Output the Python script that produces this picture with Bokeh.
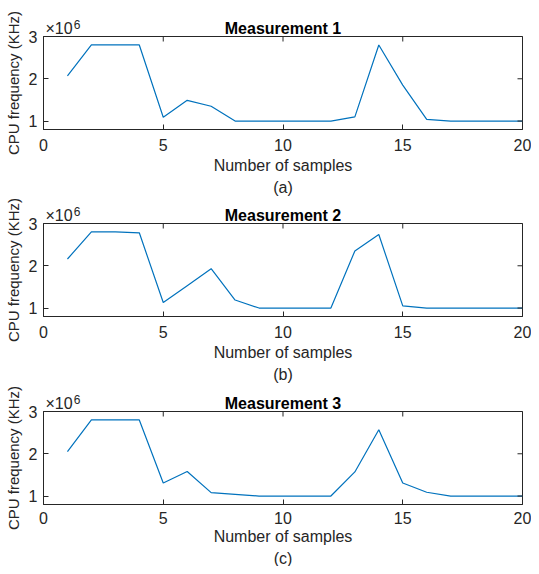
import math
from bokeh.plotting import figure
from bokeh.layouts import column
from bokeh.models import (Range1d, FixedTicker, Title, LinearAxis,
                          CustomJSTickFormatter)
from bokeh.embed import file_html
from bokeh.resources import INLINE

# ---- data (CPU frequency in units of 10^6 KHz) ----
samples = list(range(1, 21))
measurement_1 = [2.07, 2.80, 2.80, 2.80, 1.09, 1.49, 1.35, 1.00, 1.00, 1.00,
                 1.00, 1.00, 1.10, 2.80, 1.85, 1.04, 1.00, 1.00, 1.00, 1.00]
measurement_2 = [2.16, 2.80, 2.80, 2.78, 1.13, 1.53, 1.93, 1.19, 1.00, 1.00,
                 1.00, 1.00, 2.35, 2.74, 1.05, 1.00, 1.00, 1.00, 1.00, 1.00]
measurement_3 = [2.05, 2.80, 2.80, 2.80, 1.31, 1.58, 1.08, 1.04, 1.00, 1.00,
                 1.00, 1.00, 1.57, 2.57, 1.31, 1.09, 1.00, 1.00, 1.00, 1.00]

titles = ["Measurement 1", "Measurement 2", "Measurement 3"]
captions = ["(a)", "(b)", "(c)"]
x_ticks = [0, 5, 10, 15, 20]
y_ticks = [1, 2, 3]
X_RANGE = (0, 20)
Y_RANGE = (0.8, 3.0)
x_label = "Number of samples"
y_label = "CPU frequency (KHz)"
exp_base = "\u00d710"
exp_power = "6"

FONT = "Liberation Sans"
AX = "#262626"
LINE = "#0072BD"
FIG_W = 531
FRAME_H = 93
BORDER_L = 43
BORDER_R = 9


def data_x(px):
    frame_w = FIG_W - BORDER_L - BORDER_R
    return X_RANGE[0] + px * (X_RANGE[1] - X_RANGE[0]) / frame_w


def label_axis(text, px_center, size, standoff):
    return LinearAxis(ticker=FixedTicker(ticks=[data_x(px_center)]),
                      formatter=CustomJSTickFormatter(code="return %r;" % text),
                      major_tick_in=0, major_tick_out=0,
                      minor_tick_in=0, minor_tick_out=0,
                      axis_line_color=None, major_tick_line_color=None,
                      minor_tick_line_color=None,
                      major_label_text_font=FONT,
                      major_label_text_font_size=size,
                      major_label_text_color=AX,
                      major_label_standoff=standoff)


def make(values, title, caption, height, top, tick_standoff, label_standoff):
    p = figure(width=FIG_W, height=height,
               x_range=Range1d(*X_RANGE), y_range=Range1d(*Y_RANGE),
               output_backend="svg", toolbar_location=None,
               min_border_top=top, min_border_left=BORDER_L,
               min_border_right=BORDER_R,
               min_border_bottom=height - top - FRAME_H)
    p.line(samples, values, line_color=LINE, line_width=1.2)

    p.grid.visible = False
    p.outline_line_color = AX
    p.outline_line_width = 1
    p.background_fill_color = "white"
    p.border_fill_color = "white"
    p.title.visible = False

    for ax in (p.xaxis[0], p.yaxis[0]):
        ax.major_tick_in = 5
        ax.major_tick_out = 0
        ax.minor_tick_in = 0
        ax.minor_tick_out = 0
        ax.axis_line_color = AX
        ax.major_tick_line_color = AX
        ax.major_label_text_font = FONT
        ax.major_label_text_font_size = "16px"
        ax.major_label_text_color = AX
        ax.axis_label_text_font = FONT
        ax.axis_label_text_font_size = "16px"
        ax.axis_label_text_font_style = "normal"
        ax.axis_label_text_color = AX

    p.xaxis.ticker = FixedTicker(ticks=x_ticks)
    p.yaxis.ticker = FixedTicker(ticks=y_ticks)
    p.xaxis.axis_label = x_label
    p.yaxis.axis_label = y_label
    p.yaxis.axis_label_text_font_size = "15px"
    p.xaxis.major_label_standoff = tick_standoff
    p.xaxis.axis_label_standoff = label_standoff
    p.yaxis.major_label_standoff = 6
    p.yaxis.axis_label_standoff = 4

    # mirrored ticks on top and right (box on)
    p.scatter(x_ticks, [Y_RANGE[1]] * len(x_ticks), marker="dash", size=10,
              angle=math.pi / 2, line_color=AX, line_width=1)
    p.scatter([X_RANGE[1]] * len(y_ticks), y_ticks, marker="dash", size=10,
              line_color=AX, line_width=1)

    cap = Title(text=caption, align="center", text_font=FONT,
                text_font_size="16px", text_font_style="normal",
                text_color=AX, standoff=0)
    p.add_layout(cap, "below")

    # top row: scale factor "x10^6" at the left and the bold title centred
    split_power = True
    try:
        sup = label_axis(exp_power, 33.5, "12px", 0)
        sup.major_label_standoff = -12
    except Exception:
        split_power = False
    base_text = exp_base if split_power else exp_base + "\u2076"
    top_ax = label_axis(base_text, 15.5, "16px", 0)
    top_ax.axis_label = title
    top_ax.axis_label_text_font = FONT
    top_ax.axis_label_text_font_size = "16px"
    top_ax.axis_label_text_font_style = "bold"
    top_ax.axis_label_text_color = "black"
    try:
        top_ax.axis_label_standoff = -20
    except Exception:
        top_ax.axis_label_standoff = 0
    p.add_layout(top_ax, "above")
    if split_power:
        p.add_layout(sup, "above")
    return p


series = [measurement_1, measurement_2, measurement_3]
heights = [196, 187, 183]
tops = [36, 27, 28]
tick_standoffs = [9, 9, 7]
label_standoffs = [3, 3, 1]
plots = [make(*args) for args in zip(series, titles, captions, heights, tops,
                                     tick_standoffs, label_standoffs)]
layout = column(*plots, spacing=0)

open("out.html", "w").write(file_html(layout, INLINE))
